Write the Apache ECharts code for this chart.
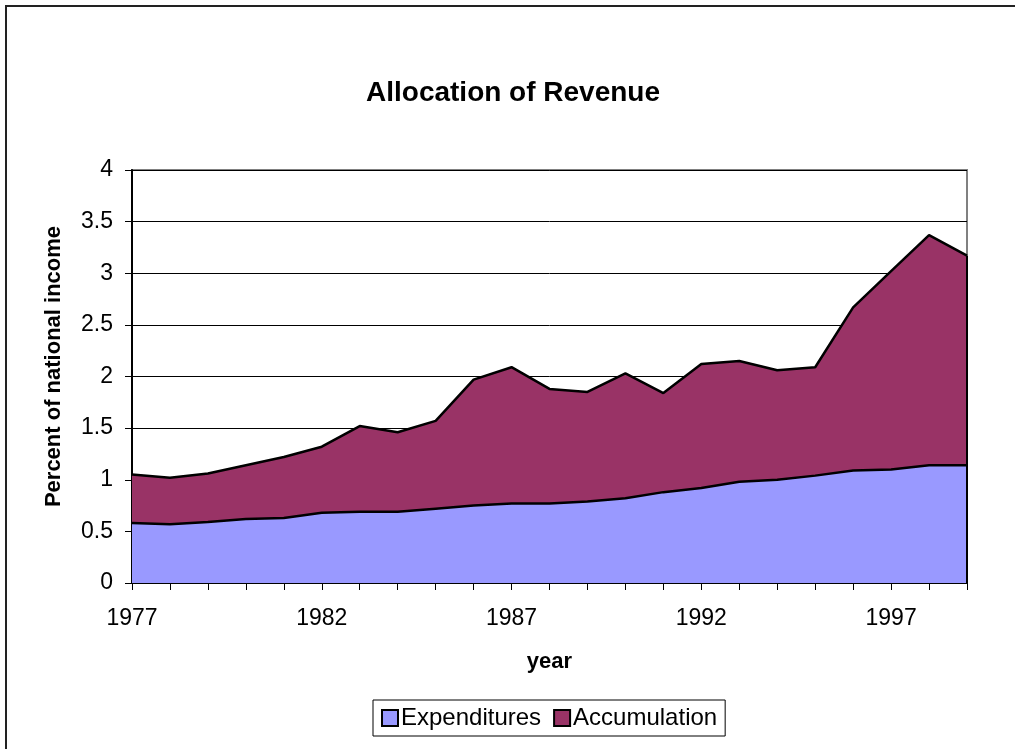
<!DOCTYPE html>
<html>
<head>
<meta charset="utf-8">
<script src="https://cdn.jsdelivr.net/npm/echarts@6/dist/echarts.min.js"></script>
<style>
  html, body { margin: 0; padding: 0; background: #fff; }
  #main { width: 1015px; height: 749px; }
</style>
</head>
<body>
<div id="main"></div>
<script>
// values
var years = ['1977', '1978', '1979', '1980', '1981', '1982', '1983', '1984', '1985', '1986', '1987', '1988',
  '1989', '1990', '1991', '1992', '1993', '1994', '1995', '1996', '1997', '1998', '1999'];
var expenditures = [0.58, 0.57, 0.59, 0.62, 0.63, 0.68, 0.69, 0.69, 0.72, 0.75, 0.77, 0.77,
  0.79, 0.82, 0.88, 0.92, 0.98, 1.00, 1.04, 1.09, 1.10, 1.14, 1.14];
var accumulation = [0.47, 0.45, 0.47, 0.52, 0.59, 0.64, 0.83, 0.77, 0.85, 1.22, 1.32, 1.11,
  1.06, 1.21, 0.96, 1.20, 1.17, 1.06, 1.05, 1.58, 1.92, 2.23, 2.03];

var font = '"Liberation Sans", Arial, sans-serif';

var chart = echarts.init(document.getElementById('main'));
chart.setOption({
  animation: false,
  textStyle: { fontFamily: font, color: '#000' },
  title: {
    text: 'Allocation of Revenue',
    left: 366,
    top: 79,
    padding: 0,
    textStyle: { fontFamily: font, fontSize: 28, fontWeight: 'bold', color: '#000' }
  },
  graphic: [{
    type: 'rect',
    shape: { x: 6, y: 6, width: 1200, height: 1000 },
    style: { fill: 'none', stroke: '#222', lineWidth: 2 },
    silent: true
  }],
  legend: {
    left: 373,
    top: 700,
    padding: [6, 8],
    itemGap: 12,
    itemWidth: 16,
    itemHeight: 16,
    borderColor: '#000',
    borderWidth: 1,
    backgroundColor: '#fff',
    icon: 'rect',
    textStyle: { fontFamily: font, fontSize: 24, color: '#000', padding: [0, 0, 0, -2] },
    data: ['Expenditures', 'Accumulation']
  },
  grid: {
    left: 132,
    right: 48,
    top: 170,
    bottom: 166,
    show: true,
    borderColor: '#808080',
    borderWidth: 2,
    backgroundColor: '#fff'
  },
  xAxis: {
    type: 'category',
    data: years,
    boundaryGap: false,
    name: 'year',
    nameLocation: 'middle',
    nameGap: 68,
    nameTextStyle: { fontFamily: font, fontSize: 22, fontWeight: 'bold', color: '#000' },
    axisLine: { lineStyle: { color: '#000', width: 2 } },
    axisTick: { show: true, interval: 0, length: 7, lineStyle: { color: '#000', width: 1 } },
    axisLabel: { interval: 4, margin: 24, fontSize: 23, color: '#000', fontFamily: font },
    splitLine: { show: false }
  },
  yAxis: {
    type: 'value',
    min: 0,
    max: 4,
    interval: 0.5,
    name: 'Percent of national income',
    nameLocation: 'middle',
    nameGap: 67,
    nameRotate: 90,
    nameTextStyle: { fontFamily: font, fontSize: 22, fontWeight: 'bold', color: '#000', padding: [0, 0, 0, 20] },
    axisLine: { show: true, lineStyle: { color: '#000', width: 2 } },
    axisTick: { show: true, length: 7, lineStyle: { color: '#000', width: 1 } },
    axisLabel: { margin: 19, fontSize: 23, color: '#000', fontFamily: font },
    splitLine: { show: true, lineStyle: { color: '#000', width: 1 } }
  },
  series: [
    {
      name: 'Expenditures',
      type: 'line',
      stack: 'total',
      data: expenditures,
      symbol: 'none',
      lineStyle: { color: '#000', width: 2.5 },
      itemStyle: { color: '#9999FF', borderColor: '#000', borderWidth: 1.5 },
      areaStyle: { color: '#9999FF', opacity: 1 }
    },
    {
      name: 'Accumulation',
      type: 'line',
      stack: 'total',
      data: accumulation,
      symbol: 'none',
      lineStyle: { color: '#000', width: 2.5 },
      itemStyle: { color: '#993366', borderColor: '#000', borderWidth: 1.5 },
      areaStyle: { color: '#993366', opacity: 1 },
      // dark edge down the right side of the plot, as in the reference
      markLine: {
        silent: true,
        symbol: 'none',
        label: { show: false },
        lineStyle: { color: '#000', width: 2, type: 'solid' },
        data: [[{ coord: ['1999', 0] }, { coord: ['1999', expenditures[22] + accumulation[22]] }]]
      }
    }
  ]
});
</script>
</body>
</html>
